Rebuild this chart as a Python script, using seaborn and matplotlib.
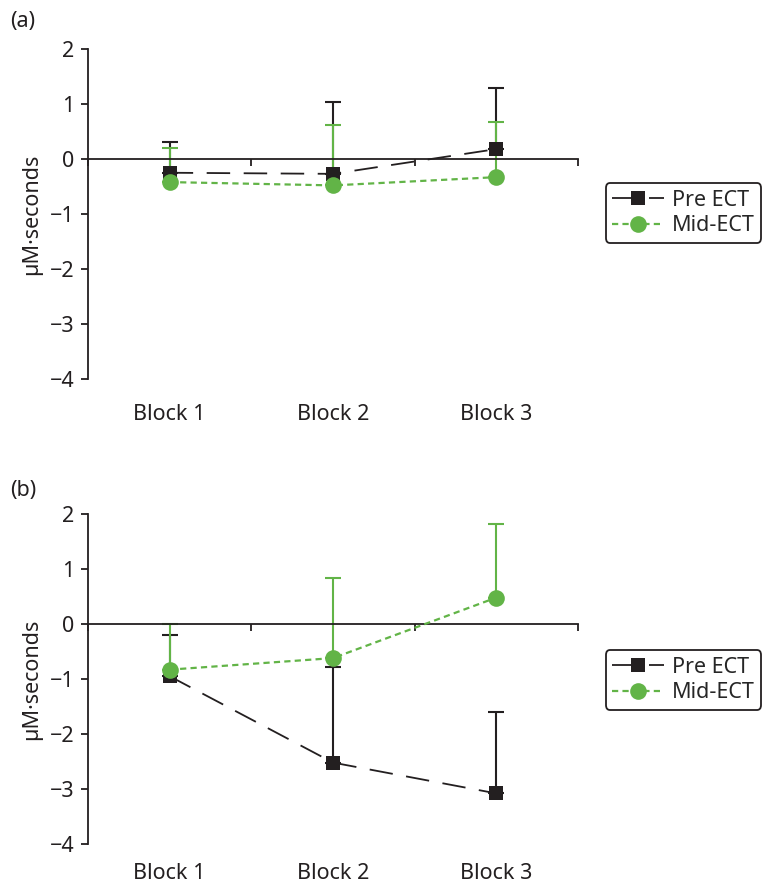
import numpy as np
import pandas as pd
import matplotlib
matplotlib.use("Agg")
import matplotlib.pyplot as plt
import seaborn as sns

# ---- data ----
blocks = ["Block 1", "Block 2", "Block 3"]
series = ["Pre ECT", "Mid-ECT"]

a_pre = [-0.25, -0.27, 0.18]
a_pre_err = [0.56, 1.30, 1.11]
a_mid = [-0.42, -0.48, -0.33]
a_mid_err = [0.62, 1.10, 1.00]

b_pre = [-0.95, -2.52, -3.08]
b_pre_err = [0.75, 1.73, 1.48]
b_mid = [-0.83, -0.62, 0.48]
b_mid_err = [0.83, 1.46, 1.34]

y_ticks = [2, 1, 0, -1, -2, -3, -4]
panel_labels = ["(a)", "(b)"]

# ---- style ----
sns.set_style("ticks")
plt.rcParams["font.family"] = ["Noto Sans", "DejaVu Sans"]
plt.rcParams["axes.unicode_minus"] = True

FS = 15.5
BLACK = "#231f20"
GREEN = "#62b447"
palette = {"Pre ECT": BLACK, "Mid-ECT": GREEN}
markers = {"Pre ECT": "s", "Mid-ECT": "o"}
dashes = {"Pre ECT": (13.0, 7.5), "Mid-ECT": (2.8, 1.9)}

fig = plt.figure(figsize=(7.65, 8.88), dpi=100)
ax_a = fig.add_axes([88 / 765, 1 - 379 / 888, 490 / 765, 330 / 888])
ax_b = fig.add_axes([88 / 765, 1 - 844 / 888, 490 / 765, 330 / 888])

panels = [
    (ax_a, a_pre, a_pre_err, a_mid, a_mid_err, 0.503, 18),
    (ax_b, b_pre, b_pre_err, b_mid, b_mid_err, 0.497, 14),
]

xpos = np.arange(len(blocks))

for i, (ax, pre, pre_e, mid, mid_e, leg_y, xpad) in enumerate(panels):
    df = pd.DataFrame({
        "x": np.concatenate([xpos, xpos]),
        "value": pre + mid,
        "err": pre_e + mid_e,
        "series": [series[0]] * 3 + [series[1]] * 3,
    })
    # error bars (upper only)
    for s, col in [("Pre ECT", BLACK), ("Mid-ECT", GREEN)]:
        d = df[df.series == s]
        ax.errorbar(d["x"], d["value"], yerr=[np.zeros(len(d)), d["err"]],
                    fmt="none", ecolor=col, elinewidth=1.5, capsize=5.5,
                    capthick=1.5, zorder=1.5, clip_on=False)
    sns.lineplot(data=df, x="x", y="value", hue="series", style="series",
                 palette=palette, markers=markers, dashes=dashes,
                 sort=False, ax=ax, markeredgewidth=0, zorder=3)
    for ln in ax.get_lines():
        if ln.get_marker() == "s":
            ln.set_markersize(10)
            ln.set_linewidth(1.3)
        elif ln.get_marker() == "o":
            ln.set_markersize(12)
            ln.set_linewidth(1.6)

    ax.set_xlim(-0.5, 2.5)
    ax.set_ylim(-4, 2)
    ax.spines["right"].set_visible(False)
    ax.spines["top"].set_visible(False)
    ax.spines["left"].set_bounds(-4, 2)
    ax.spines["bottom"].set_position(("data", 0))
    for sp in ["left", "bottom"]:
        ax.spines[sp].set_color(BLACK)
        ax.spines[sp].set_linewidth(1.3)
    ax.set_xticks([-0.5, 0.5, 1.5, 2.5])
    ax.set_xticklabels([])
    ax.set_yticks(y_ticks)
    ax.tick_params(axis="both", direction="out", length=5, width=1.3,
                   color=BLACK, labelsize=FS, labelcolor=BLACK)
    ax.tick_params(axis="y", pad=5)
    ax.set_xlabel("")
    ax.set_ylabel("µM·seconds", fontsize=FS, color=BLACK, labelpad=5)

    sec = ax.secondary_xaxis("bottom")
    sec.set_xticks(xpos)
    sec.set_xticklabels(blocks)
    sec.tick_params(length=0, pad=xpad, labelsize=FS, labelcolor=BLACK)
    sec.spines["bottom"].set_visible(False)

    handles, labels = ax.get_legend_handles_labels()
    if ax.get_legend() is not None:
        ax.get_legend().remove()
    leg = ax.legend(handles, labels, loc="center left",
                    bbox_to_anchor=(1.057, leg_y), frameon=True,
                    fancybox=True, edgecolor=BLACK, fontsize=FS,
                    handlelength=2.4, handletextpad=0.35, borderpad=0.3,
                    labelspacing=0.2, borderaxespad=0)
    leg.get_frame().set_linewidth(1.3)
    leg.get_frame().set_alpha(1)

fig.text(10 / 765, 1 - 22 / 888, panel_labels[0], fontsize=FS, va="center", color=BLACK)
fig.text(10 / 765, 1 - 490 / 888, panel_labels[1], fontsize=FS, va="center", color=BLACK)

fig.savefig("out.png", dpi=100)
